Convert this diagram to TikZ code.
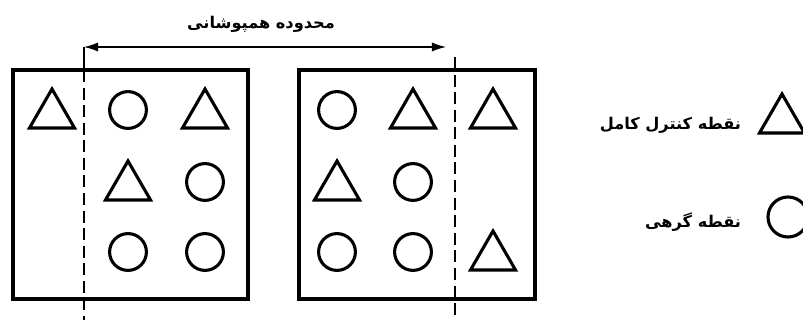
\documentclass[tikz,border=0pt]{standalone}
\usepackage{fontspec}
\newfontfamily\arabicfont[Script=Arabic]{DejaVu Sans}
\TeXXeTstate=1
\usetikzlibrary{shapes.geometric, arrows.meta}
\begin{document}
\begin{tikzpicture}[x=0.025cm, y=-0.025cm,
	tri/.style={draw, regular polygon, regular polygon sides=3, minimum size=1.3cm, inner sep=0pt, line width=2.2pt},
	circ/.style={draw, circle, minimum size=0.92cm, inner sep=0pt, line width=2.2pt},
	frame/.style={draw, line width=2.5pt},
	overlap/.style={line width=1pt, dash pattern=on 8.5pt off 4pt},
	fa/.style={font=\arabicfont\bfseries\fontsize{11.5}{13}\selectfont}]
	\useasboundingbox (0,0) rectangle (803,320);
	
	% two images
	\draw[frame] (13,70) rectangle (248,299);
	\draw[frame] (299,70) rectangle (535,299);
	
	% left image points
	\node[tri] (L11) at (52,115) {};
	\node[circ] (L12) at (128,110) {};
	\node[tri] (L13) at (205,115) {};
	\node[tri] (L22) at (128,187) {};
	\node[circ] (L23) at (205,182) {};
	\node[circ] (L32) at (128,252) {};
	\node[circ] (L33) at (205,252) {};
	
	% right image points
	\node[circ] (R11) at (337,110) {};
	\node[tri] (R12) at (413,115) {};
	\node[tri] (R13) at (493,115) {};
	\node[tri] (R21) at (337,187) {};
	\node[circ] (R22) at (413,182) {};
	\node[circ] (R31) at (337,252) {};
	\node[circ] (R32) at (413,252) {};
	\node[tri] (R33) at (493,257) {};
	
	% overlap zone
	\coordinate (ovl) at (84,47);
	\coordinate (ovr) at (446,47);
	\coordinate (ovlt) at (84,70);
	\coordinate (ovlb) at (84,320);
	\coordinate (ovrt) at (455,57);
	\coordinate (ovrb) at (455,320);
	\draw[line width=1pt] (ovl) -- (ovlt);
	\draw[overlap] (ovlt) -- (ovlb);
	\draw[overlap] (ovrt) -- (ovrb);
	\draw[line width=0.9pt, {Latex[length=10pt,width=6.5pt]}-{Latex[length=10pt,width=6.5pt]}] (ovl) -- (ovr);
	\node[fa] (olabel) at (261,24) {\beginR محدوده همپوشانی\endR};
	
	% legend
	\node[tri] (ktri) at (782,120) {};
	\node[circ, minimum size=1cm] (kcirc) at (788,217) {};
	\node[fa, anchor=east] (ktxt) at (746,125) {\beginR نقطه کنترل کامل\endR};
	\node[fa, anchor=east] (ctxt) at (746,222) {\beginR نقطه گرهی\endR};
\end{tikzpicture}
\end{document}
